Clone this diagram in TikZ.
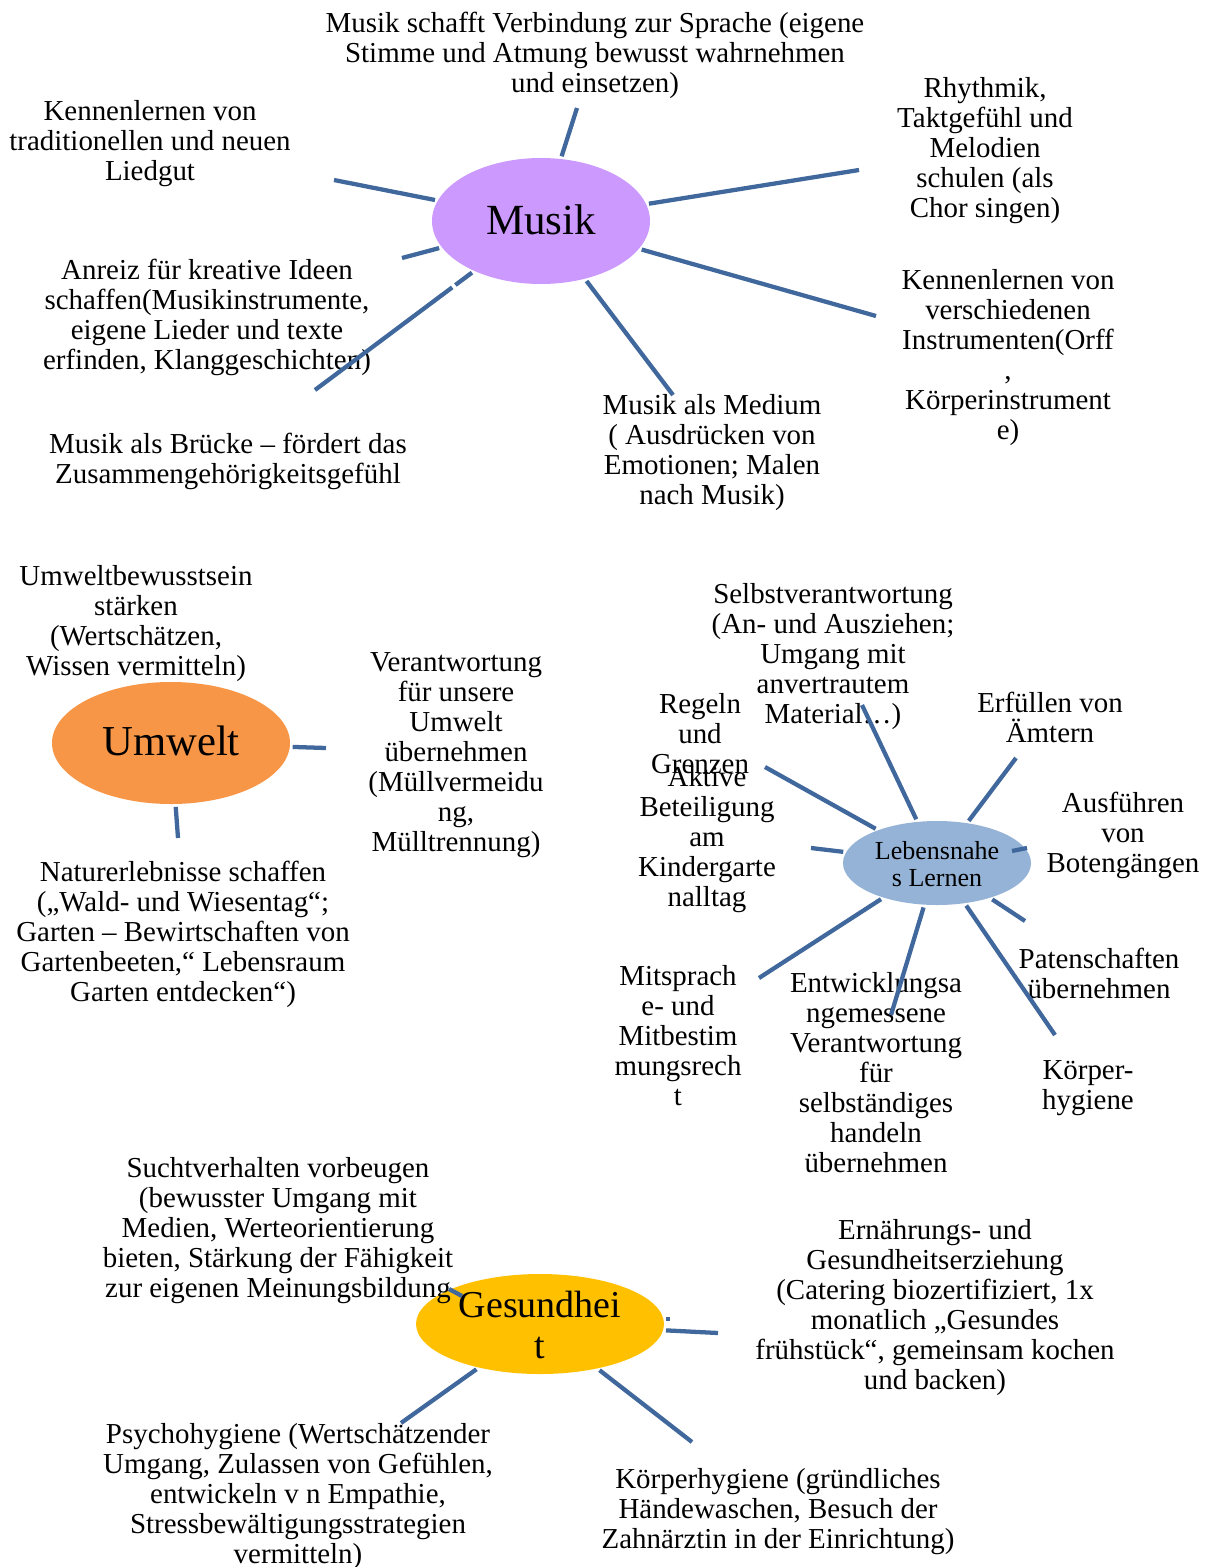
\documentclass[tikz,border=0pt]{standalone}
\usepackage{fontspec}
\setmainfont{Liberation Serif}
\usetikzlibrary{shapes.geometric}
\definecolor{spokeblue}{RGB}{64,104,156}
\definecolor{musikfill}{RGB}{204,153,255}
\definecolor{umweltfill}{RGB}{247,150,70}
\definecolor{lernfill}{RGB}{149,179,215}
\definecolor{gesundfill}{RGB}{255,192,0}
\begin{document}
\begin{tikzpicture}[x=0.75pt,y=-0.75pt,
  txt/.style={align=center, inner sep=0pt, yshift=-2.25pt, font=\fontsize{21.7}{22.5}\selectfont},
  hub/.style={ellipse, inner sep=0pt, draw=none},
  hubtext/.style={align=center, inner sep=0pt},
  spokeline/.style={draw=spokeblue, line width=3.2pt, shorten <=2pt}]
\useasboundingbox (0,0) rectangle (1216,1567);
\fill[white] (0,0) rectangle (1216,1567);

% ---------- hubs ----------
\node[hub, fill=musikfill, minimum width=163.5pt, minimum height=94.5pt] (musik) at (541,221) {};
\node[hubtext, font=\fontsize{32.25}{34}\selectfont] (musiklbl) at (541,220) {Musik};

\node[hub, fill=umweltfill, minimum width=178.5pt, minimum height=91.5pt] (umwelt) at (171,743) {};
\node[hubtext, font=\fontsize{32}{34}\selectfont] (umweltlbl) at (171,741) {Umwelt};

\node[hub, fill=lernfill, minimum width=141pt, minimum height=63pt] (lern) at (937,863) {};
\node[hubtext, font=\fontsize{19.5}{20.25}\selectfont] (lernlbl) at (937,864) {Lebensnahe\\s Lernen};

\node[hub, fill=gesundfill, minimum width=186pt, minimum height=75pt] (gesund) at (540,1324) {};
\node[hubtext, font=\fontsize{28.5}{30.75}\selectfont] (gesundlbl) at (540,1325) {Gesundhei\\t};

% ---------- Musik texts ----------
\node[txt] (tm1) at (595,52) {Musik schafft Verbindung zur Sprache (eigene\\Stimme und Atmung bewusst wahrnehmen\\und einsetzen)};
\node[txt] (tm2) at (150,141) {Kennenlernen von\\traditionellen und neuen\\Liedgut};
\node[txt] (tm3) at (985,148) {Rhythmik,\\Taktgefühl und\\Melodien\\schulen (als\\Chor singen)};
\node[txt] (tm4) at (1008,355) {Kennenlernen von\\verschiedenen\\Instrumenten(Orff\\,\\Körperinstrument\\e)};
\node[txt] (tm5) at (207,314) {Anreiz für kreative Ideen\\schaffen(Musikinstrumente,\\eigene Lieder und texte\\erfinden, Klanggeschichten)};
\node[txt] (tm6) at (228,458) {Musik als Brücke – fördert das\\Zusammengehörigkeitsgefühl};
\node[txt] (tm7) at (712,450) {Musik als Medium\\( Ausdrücken von\\Emotionen; Malen\\nach Musik)};

% ---------- Umwelt texts ----------
\node[txt] (tu0) at (136,621) {Umweltbewusstsein\\stärken\\(Wertschätzen,\\Wissen vermitteln)};
\node[txt] (tu1) at (456,752) {Verantwortung\\für unsere\\Umwelt\\übernehmen\\(Müllvermeidu\\ng,\\Mülltrennung)};
\node[txt] (tu2) at (183,931) {Naturerlebnisse schaffen\\(„Wald- und Wiesentag“;\\Garten – Bewirtschaften von\\Gartenbeeten,“ Lebensraum\\Garten entdecken“)};

% ---------- Lebensnahes Lernen texts ----------
\node[txt] (tl1) at (833,654) {Selbstverantwortung\\(An- und Ausziehen;\\Umgang mit\\anvertrautem\\Material…)};
\node[txt] (tl2) at (700,731) {Regeln\\und\\Grenzen};
\node[txt] (tl3) at (707,837) {Aktive\\Beteiligung\\am\\Kindergarte\\nalltag};
\node[txt] (tl4) at (1050,714) {Erfüllen von\\Ämtern};
\node[txt] (tl5) at (1123,832) {Ausführen\\von\\Botengängen};
\node[txt] (tl6) at (1099,970) {Patenschaften\\übernehmen};
\node[txt] (tl7) at (1088,1085) {Körper-\\hygiene};
\node[txt] (tl8) at (876,1070) {Entwicklungsa\\ngemessene\\Verantwortung\\für\\selbständiges\\handeln\\übernehmen};
\node[txt] (tl9) at (678,1033) {Mitsprach\\e- und\\Mitbestim\\mungsrech\\t};

% ---------- Gesundheit texts ----------
\node[txt] (tg1) at (278,1228) {Suchtverhalten vorbeugen\\(bewusster Umgang mit\\Medien, Werteorientierung\\bieten, Stärkung der Fähigkeit\\zur eigenen Meinungsbildung};
\node[txt] (tg2) at (935,1305) {Ernährungs- und\\Gesundheitserziehung\\(Catering biozertifiziert, 1x\\monatlich „Gesundes\\frühstück“, gemeinsam kochen\\und backen)};
\node[txt] (tg3) at (298,1494) {Psychohygiene (Wertschätzender\\Umgang, Zulassen von Gefühlen,\\entwickeln v n Empathie,\\Stressbewältigungsstrategien\\vermitteln)};
\node[txt] (tg4) at (778,1509) {Körperhygiene (gründliches\\Händewaschen, Besuch der\\Zahnärztin in der Einrichtung)};

% ---------- spoke ends ----------
\coordinate (m1) at (577,108);
\coordinate (m2) at (334,180);
\coordinate (m3) at (859,170);
\coordinate (m4) at (876,316);
\coordinate (m5) at (402,258);
\coordinate (m6) at (315,390);
\coordinate (m7) at (673,395);

\coordinate (u1) at (326,748);
\coordinate (u2) at (178,838);

\coordinate (l1) at (862,705);
\coordinate (l2) at (765,767);
\coordinate (l3) at (811,848);
\coordinate (l4) at (1016,758);
\coordinate (l5a) at (1012,851);
\coordinate (l5) at (1027,848);
\coordinate (l6) at (1025,921);
\coordinate (l7) at (1055,1035);
\coordinate (l8) at (891,1015);
\coordinate (l9) at (759,978);

\coordinate (g1a) at (449,1289);
\coordinate (g1) at (462,1296);
\coordinate (g2) at (718,1333);
\coordinate (g2a) at (667.5,1317.3);
\coordinate (g2b) at (667.5,1320.7);
\coordinate (g3) at (401,1423);
\coordinate (g4) at (692,1442);

% ---------- spokes ----------
\foreach \e in {m1,m2,m3,m4,m5,m7} \draw[spokeline] (musik) -- (\e);
\draw[spokeline, dash pattern=on 15.5pt off 3pt on 300pt] (musik) -- (m6);
\foreach \e in {u1,u2} \draw[spokeline] (umwelt) -- (\e);
\foreach \e in {l1,l2,l3,l4,l6,l7,l8,l9} \draw[spokeline] (lern) -- (\e);
\draw[spokeline, shorten <=0pt] (l5a) -- (l5);
\foreach \e in {g2,g3,g4} \draw[spokeline] (gesund) -- (\e);
\draw[spokeline, shorten <=0pt] (g1a) -- (g1);
\draw[spokeline, shorten <=0pt, line width=3pt] (g2a) -- (g2b);
\end{tikzpicture}
\end{document}
